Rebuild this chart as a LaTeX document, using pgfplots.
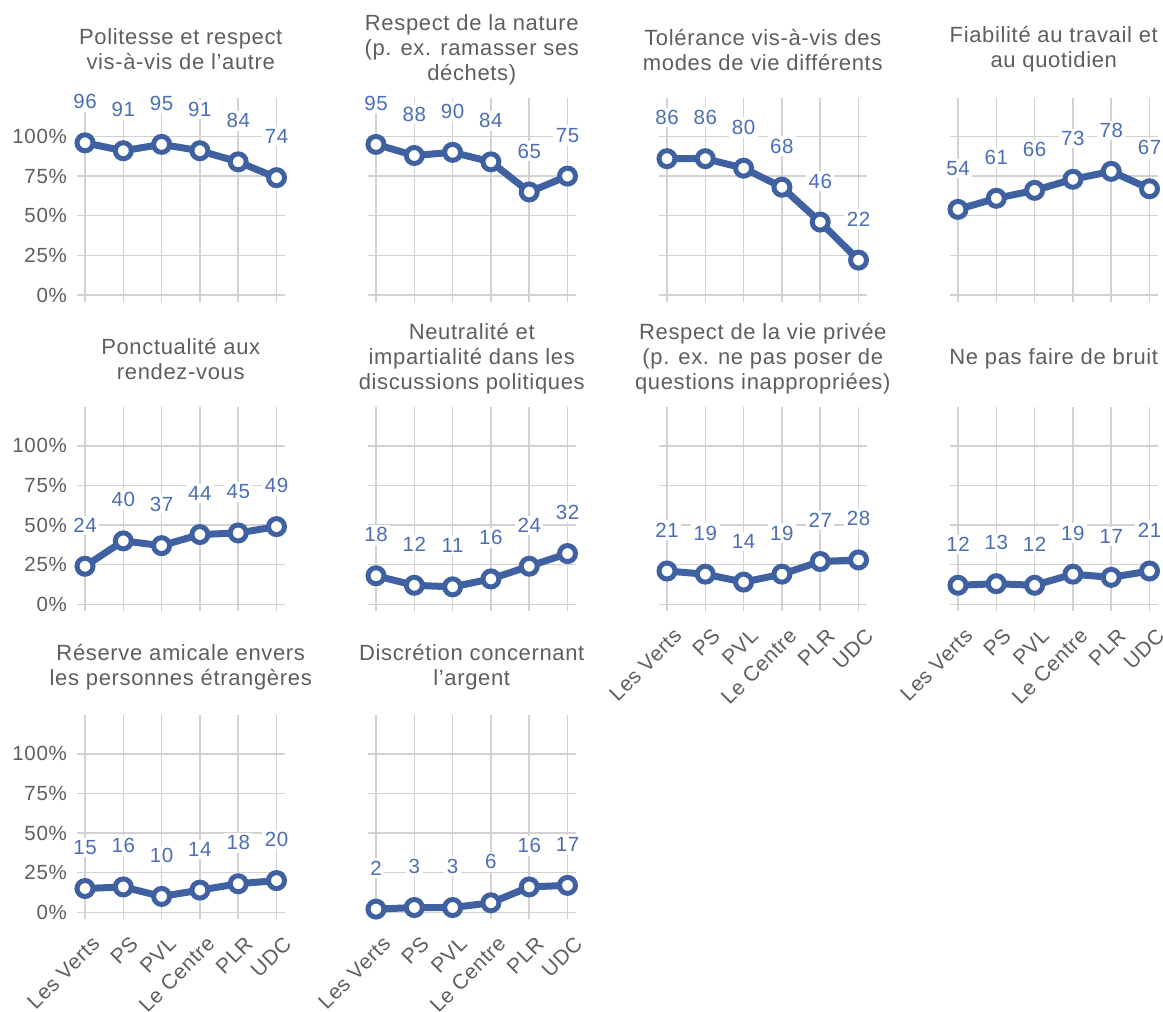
\documentclass[border=0pt]{standalone}
\usepackage{fontspec}
\setmainfont{Liberation Sans}[LetterSpace=3]
\usepackage{pgfplots}
\pgfplotsset{compat=1.18}

\definecolor{lineblue}{HTML}{3F60A1}
\definecolor{labelblue}{HTML}{4B6EB5}
\definecolor{textgray}{HTML}{5E5E5E}
\definecolor{gridgray}{HTML}{D2D2D2}

\newcommand{\titlefont}{\fontsize{22}{25}\selectfont}
\newcommand{\tickfont}{\fontsize{20.5}{24}\selectfont}
\newcommand{\xtickfont}{\fontsize{21}{24}\selectfont}
\newcommand{\valfont}{\fontsize{20.5}{24}\selectfont}

\pgfplotsset{
  /pgf/number format/assume math mode=true,
  panel/.style={
    scale only axis, width=207.6pt, height=204.5pt,
    anchor=south west,
    xmin=-0.21, xmax=5.21, ymin=-4.5, ymax=124.5,
    xtick={0,1,2,3,4,5}, ytick={0,25,50,75,100},
    xticklabels={}, yticklabels={},
    grid=major, grid style={gridgray, line width=1.5pt},
    axis line style={draw=none}, major tick length=0pt,
    clip=false,
    tick label style={font=\tickfont, text=textgray},
    yticklabel style={inner sep=0pt, xshift=-10pt},
    title style={at={(0.5,1)}, anchor=center, yshift=42pt, align=center,
                 font=\titlefont, text=textgray},
    nodes near coords,
    every node near coord/.append style={anchor=center, yshift=41pt,
        fill=white, inner sep=2.5pt, text=labelblue, font=\valfont},
  },
  ylab/.style={yticklabels={0\%,25\%,50\%,75\%,100\%}},
  xlab/.style={xticklabels={Les Verts,PS,PVL,Le Centre,PLR,UDC},
    xticklabel style={rotate=45, anchor=north east, inner sep=2pt,
      font=\xtickfont, xshift=-5pt, yshift=-13pt}},
  series/.style={line width=7pt, color=lineblue, mark=*, mark size=8pt,
    mark options={solid, fill=white, draw=lineblue, line width=5pt}},
}

\begin{document}
\begin{tikzpicture}
\useasboundingbox (0,0) rectangle (1163pt,-1012pt);

% Row 1
\begin{axis}[panel, ylab, at={(76.96pt,-302.13pt)},
  title={Politesse et respect\\vis-à-vis de l’autre}]
\addplot[series] coordinates {(0,96) (1,91) (2,95) (3,91) (4,84) (5,74)};
\end{axis}
\begin{axis}[panel, at={(367.96pt,-302.13pt)},
  title={Respect de la nature\\(p. ex. ramasser ses\\déchets)}]
\addplot[series] coordinates {(0,95) (1,88) (2,90) (3,84) (4,65) (5,75)};
\end{axis}
\begin{axis}[panel, at={(658.96pt,-302.13pt)},
  title={Tolérance vis-à-vis des\\modes de vie différents}]
\addplot[series] coordinates {(0,86) (1,86) (2,80) (3,68) (4,46) (5,22)};
\end{axis}
\begin{axis}[panel, at={(949.96pt,-302.13pt)},
  title={Fiabilité au travail et\\au quotidien}]
\addplot[series] coordinates {(0,54) (1,61) (2,66) (3,73) (4,78) (5,67)};
\end{axis}

% Row 2
\begin{axis}[panel, ylab, at={(76.96pt,-611.43pt)},
  title={Ponctualité aux\\rendez-vous}]
\addplot[series] coordinates {(0,24) (1,40) (2,37) (3,44) (4,45) (5,49)};
\end{axis}
\begin{axis}[panel, at={(367.96pt,-611.43pt)},
  title={Neutralité et\\impartialité dans les\\discussions politiques}]
\addplot[series] coordinates {(0,18) (1,12) (2,11) (3,16) (4,24) (5,32)};
\end{axis}
\begin{axis}[panel, xlab, at={(658.96pt,-611.43pt)},
  title={Respect de la vie privée\\(p. ex. ne pas poser de\\questions inappropriées)}]
\addplot[series] coordinates {(0,21) (1,19) (2,14) (3,19) (4,27) (5,28)};
\end{axis}
\begin{axis}[panel, xlab, at={(949.96pt,-611.43pt)},
  title={Ne pas faire de bruit}]
\addplot[series] coordinates {(0,12) (1,13) (2,12) (3,19) (4,17) (5,21)};
\end{axis}

% Row 3
\begin{axis}[panel, ylab, xlab, at={(76.96pt,-919.43pt)},
  title={Réserve amicale envers\\les personnes étrangères}]
\addplot[series] coordinates {(0,15) (1,16) (2,10) (3,14) (4,18) (5,20)};
\end{axis}
\begin{axis}[panel, xlab, at={(367.96pt,-919.43pt)},
  title={Discrétion concernant\\l’argent}]
\addplot[series] coordinates {(0,2) (1,3) (2,3) (3,6) (4,16) (5,17)};
\end{axis}
\end{tikzpicture}
\end{document}
